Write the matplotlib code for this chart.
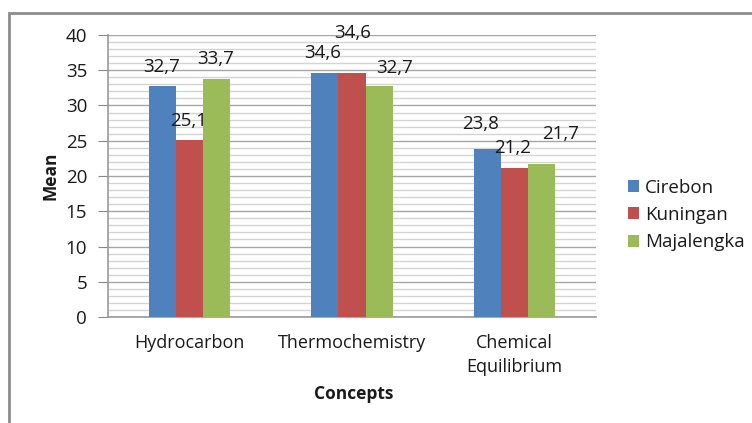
import matplotlib
matplotlib.use("Agg")
import matplotlib.pyplot as plt
from matplotlib.patches import Rectangle
from matplotlib.ticker import MultipleLocator
import numpy as np

categories = ["Hydrocarbon", "Thermochemistry", "Chemical\nEquilibrium"]
series_names = ["Cirebon", "Kuningan", "Majalengka"]
cirebon = [32.7, 34.6, 23.8]
kuningan = [25.1, 34.6, 21.2]
majalengka = [33.7, 32.7, 21.7]
values = [cirebon, kuningan, majalengka]
colors = ["#4f81bd", "#c0504d", "#9bbb59"]

# label offsets in pixels relative to bar top centre (style)
label_dx = [[-1, -2, -7], [-1, 1, -2], [-1, 16, 19]]
label_dy = [[19, 20, 25], [19, 40, 20], [20, 18, 30]]

plt.rcParams['font.family'] = ['Open Sans', 'DejaVu Sans']
TXT = "#1a1a1a"

W, H = 752, 423
fig = plt.figure(figsize=(W / 100, H / 100), dpi=100)
ax = fig.add_axes([108 / W, 1 - 317 / H, (596 - 108) / W, (317 - 35) / H])

x = np.arange(len(categories))
bw = 0.166
for i, (name, vals, c) in enumerate(zip(series_names, values, colors)):
    pos = x + (i - 1) * bw
    ax.bar(pos, vals, width=bw, color=c, label=name, zorder=3)
    for j, (p, v) in enumerate(zip(pos, vals)):
        ax.annotate(f"{v:.1f}".replace(".", ","), (p, v),
                    xytext=(label_dx[i][j] * 0.72, label_dy[i][j] * 0.72),
                    textcoords="offset points",
                    ha="center", va="center", fontsize=13.5, color=TXT)

ax.set_xlim(-0.5, 2.5)
ax.set_ylim(0, 40)
ax.yaxis.set_major_locator(MultipleLocator(5))
ax.yaxis.set_minor_locator(MultipleLocator(1))
ax.grid(which="minor", axis="y", color="#d4d4d4", linewidth=1.0, zorder=0)
ax.grid(which="major", axis="y", color="#a6a6a6", linewidth=1.0, zorder=0)
ax.set_xticks(x)
ax.set_xticklabels(categories, fontsize=13, color=TXT, linespacing=1.45)
ax.tick_params(axis="x", length=0, pad=12)
ax.tick_params(axis="y", which="major", length=7, color="#888888", labelsize=13.5,
               pad=8, labelcolor=TXT)
ax.tick_params(axis="y", which="minor", length=0)
for s in ["top", "right"]:
    ax.spines[s].set_visible(False)
for s in ["left", "bottom"]:
    ax.spines[s].set_color("#999999")
    ax.spines[s].set_linewidth(1.2)

ax.set_ylabel("Mean", fontsize=12.5, fontweight="bold", color=TXT, va="center")
ax.yaxis.set_label_coords(-0.117, 0.5)
ax.set_xlabel("Concepts", fontsize=12.5, fontweight="bold", color=TXT, va="center")
ax.xaxis.set_label_coords(0.504, -0.273)

leg = ax.legend(loc="center left", bbox_to_anchor=(1.03, 0.362), frameon=False,
                fontsize=13.5, handlelength=0.6, handleheight=0.6, handletextpad=0.35,
                labelspacing=0.5)
for t in leg.get_texts():
    t.set_color(TXT)

fig.patches.append(Rectangle((9 / W, -0.1), 1.2, 1.1 - 13 / H, transform=fig.transFigure,
                             fill=False, edgecolor="#8c8c8c", linewidth=2, clip_on=False))

fig.savefig("out.png", dpi=100)
